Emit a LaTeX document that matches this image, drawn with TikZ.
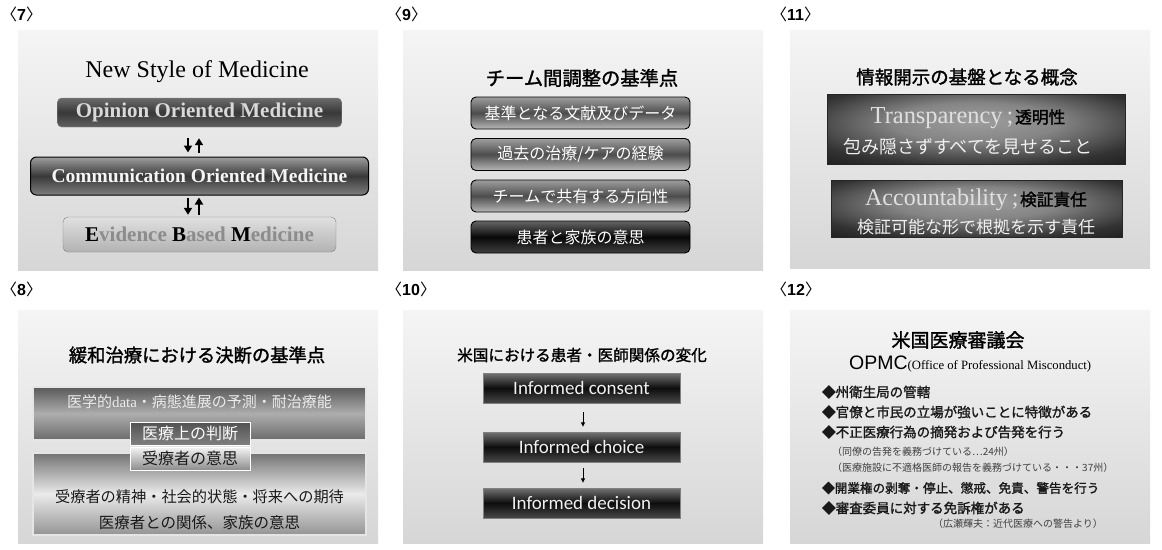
\documentclass[tikz,border=0pt]{standalone}
\usepackage{fontspec}
\setmainfont{Liberation Serif}
\newfontfamily\jp[AutoFakeBold=1.5]{Noto Sans CJK JP}
\newfontfamily\lsans{Liberation Sans}
\newfontfamily\carl{Carlito}
\usetikzlibrary{arrows.meta}
\newcommand\fsz[1]{\fontsize{#1}{#1}\selectfont}
\newcommand\slab[1]{{\jp 〈}{\lsans\bfseries #1}{\jp 〉}}
\pgfdeclareradialshading{glowbox}{\pgfpoint{0bp}{6bp}}{color(0bp)=(black!38); color(14bp)=(black!48); color(30bp)=(black!80); color(45bp)=(black!94); color(80bp)=(black!96)}
\begin{document}
\begin{tikzpicture}[x=1pt,y=-1pt,
  slidebg/.style={top color=black!4, bottom color=black!16},
  lab/.style={anchor=west, inner sep=0, font=\fsz{16}},
  ttl/.style={inner sep=0, font=\jp\bfseries\fsz{#1}},
  txt/.style={inner sep=0, font=\jp\fsz{#1}},
  bx/.style={inner sep=0},
  b7a/.style={bx, rounded corners=4, draw=black!45, top color=black!58, bottom color=black!62, middle color=black!78, text=black!15, font=\bfseries\fsz{21}},
  b7b/.style={bx, rounded corners=6, draw=black, line width=1, top color=black!38, bottom color=black!50, middle color=black!78, text=black!4, font=\bfseries\fsz{19.5}},
  b7c/.style={bx, rounded corners=5, draw=black!50, top color=black!12, bottom color=black!30, text=black!45, font=\bfseries\fsz{21}},
  dbl/.style={line width=2.4, -{Triangle[length=7pt,width=8pt]}},
  b9/.style={bx, rounded corners=5, draw=black, line width=0.9, minimum width=219, minimum height=32, top color=black!38, bottom color=black!28, middle color=black!70, text=white, font=\jp\fsz{16}},
  b9d/.style={b9, top color=black!60, bottom color=black!75, middle color=black!97},
  b10/.style={bx, draw=black!50, minimum width=197, minimum height=30, top color=black!55, bottom color=black!72, middle color=black!95, text=black!6, font=\carl\fsz{19}},
  arr10/.style={line width=0.9, -{Triangle[length=4.5pt,width=4pt]}},
  b11/.style={bx, draw=black!85, shading=glowbox},
  b8u/.style={bx, draw=black!10, line width=1.2, top color=black!65, bottom color=black!58, middle color=black!32},
  b8l/.style={bx, draw=black!10, line width=1.2, top color=black!55, bottom color=black!42, middle color=black!8},
  b8s1/.style={bx, draw=white, line width=1, top color=black!68, bottom color=black!50, text=white, font=\jp\fsz{16}},
  b8s2/.style={bx, draw=white, line width=1, top color=black!4, bottom color=black!45, text=black!90, font=\jp\fsz{16}},
  bul/.style={anchor=west, inner sep=0, text=black!90, font=\jp\bfseries\fsz{13.5}},
  sml/.style={anchor=west, inner sep=0, text=black!75, font=\jp\fsz{10}}
]
\useasboundingbox (0,0) rectangle (1162,549);
\fill[white] (0,0) rectangle (1162,549);

% ---------- labels ----------
\node[lab] (l7) at (1,14) {\slab{7}};
\node[lab] (l9) at (386,14) {\slab{9}};
\node[lab] (l11) at (771,14) {\slab{11}};
\node[lab] (l8) at (1,289) {\slab{8}};
\node[lab] (l10) at (386,289) {\slab{10}};
\node[lab] (l12) at (771,289) {\slab{12}};

% ---------- slide 7 ----------
\shade[slidebg] (18,30) rectangle (378,270);
\node[inner sep=0, font=\fsz{24}] (t7) at (197,72) {New Style of Medicine};
\node[b7a, minimum width=284, minimum height=29] (o7) at (199.5,112.5) {Opinion Oriented Medicine};
\node[b7b, minimum width=338, minimum height=38] (c7) at (199.5,176) {Communication Oriented Medicine};
\node[b7c, minimum width=273, minimum height=35] (e7) at (199.5,234.5) {{\color{black}E}vidence {\color{black}B}ased {\color{black}M}edicine};
\draw[dbl, shorten <=11, shorten >=4] ([xshift=-11.5]o7.south) -- ([xshift=-11.5]c7.north);
\draw[dbl, shorten <=4, shorten >=11] ([xshift=-0.5]c7.north) -- ([xshift=-0.5]o7.south);
\draw[dbl, shorten <=2, shorten >=2] ([xshift=-11.5]c7.south) -- ([xshift=-11.5]e7.north);
\draw[dbl, shorten <=2, shorten >=2] ([xshift=-0.5]e7.north) -- ([xshift=-0.5]c7.south);

% ---------- slide 9 ----------
\shade[slidebg] (403,30) rectangle (763,270);
\node[ttl=19.3] (t9) at (582,78) {チーム間調整の基準点};
\node[b9] (n91) at (580.5,113) {基準となる文献及びデータ};
\node[b9] (n92) at (580.5,154.5) {過去の治療/ケアの経験};
\node[b9] (n93) at (580.5,196) {チームで共有する方向性};
\node[b9d] (n94) at (580.5,237) {患者と家族の意思};

% ---------- slide 11 ----------
\shade[slidebg] (790,30) rectangle (1150,268);
\node[ttl=18.5] (t11) at (967,77) {情報開示の基盤となる概念};
\node[b11, minimum width=298, minimum height=70] (a11) at (976,129) {};
\node[inner sep=0] (a11t) at (968,118) {{\color{black!12}\fsz{24.4}Transparency\,;}\,{\jp\bfseries\fsz{16.7}透明性}};
\node[txt=18, text=black!6] (a11s) at (968,147) {包み隠さずすべてを見せること};
\node[b11, minimum width=291, minimum height=57] (b11) at (976.5,208.5) {};
\node[inner sep=0] (b11t) at (976,200) {{\color{black!12}\fsz{24}Accountability\,;}\,{\jp\bfseries\fsz{16.7}検証責任}};
\node[txt=17, text=black!6] (b11s) at (976,227) {検証可能な形で根拠を示す責任};

% ---------- slide 8 ----------
\shade[slidebg] (18,310) rectangle (378,543);
\node[ttl=18.3] (t8) at (197,355) {緩和治療における決断の基準点};
\node[b8u, minimum width=333, minimum height=53] (u8) at (199.5,413.5) {};
\node[txt=15, text=black!8] (u8t) at (199.5,402) {医学的{\rmfamily data}・病態進展の予測・耐治療能};
\node[b8l, minimum width=333, minimum height=82] (w8) at (199.5,494) {};
\node[txt=15.2, text=black!90] (w8a) at (199.5,497) {受療者の精神・社会的状態・将来への期待};
\node[txt=15.5, text=black!90] (w8b) at (199.5,523) {医療者との関係、家族の意思};
\node[b8s1, minimum width=120, minimum height=23] (s81) at (190,433.5) {医療上の判断};
\node[b8s2, minimum width=120, minimum height=23] (s82) at (190,458.5) {受療者の意思};

% ---------- slide 10 ----------
\shade[slidebg] (403,310) rectangle (763,543);
\node[ttl=15.6] (t10) at (582,355) {米国における患者・医師関係の変化};
\node[b10] (i1) at (581.5,388) {Informed consent};
\node[b10] (i2) at (581.5,447) {Informed choice};
\node[b10] (i3) at (581.5,503) {Informed decision};
\draw[arr10, shorten <=9, shorten >=5] ([xshift=1.5]i1.south) -- ([xshift=1.5]i2.north);
\draw[arr10, shorten <=6, shorten >=5] ([xshift=1.5]i2.south) -- ([xshift=1.5]i3.north);

% ---------- slide 12 ----------
\shade[slidebg] (790,310) rectangle (1150,543);
\node[ttl=19] (t12) at (958,340) {米国医療審議会};
\node[anchor=base west, inner sep=0] (op) at (849,369) {{\lsans\fsz{19.5}OPMC}{\fsz{12.7}(Office of Professional Misconduct)}};
\node[bul] (p1) at (822,392) {◆州衛生局の管轄};
\node[bul] (p2) at (822,412) {◆官僚と市民の立場が強いことに特徴がある};
\node[bul] (p3) at (822,432) {◆不正医療行為の摘発および告発を行う};
\node[sml] (p3a) at (832,452) {（同僚の告発を義務づけている…24州）};
\node[sml] (p3b) at (832,468) {（医療施設に不適格医師の報告を義務づけている・・・37州）};
\node[bul, font=\jp\bfseries\fsz{12.6}] (p4) at (822,488) {◆開業権の剥奪・停止、懲戒、免責、警告を行う};
\node[bul] (p5) at (822,508) {◆審査委員に対する免訴権がある};
\node[sml, anchor=east] (src) at (1103,524) {（広瀬輝夫：近代医療への警告より）};
\end{tikzpicture}
\end{document}
